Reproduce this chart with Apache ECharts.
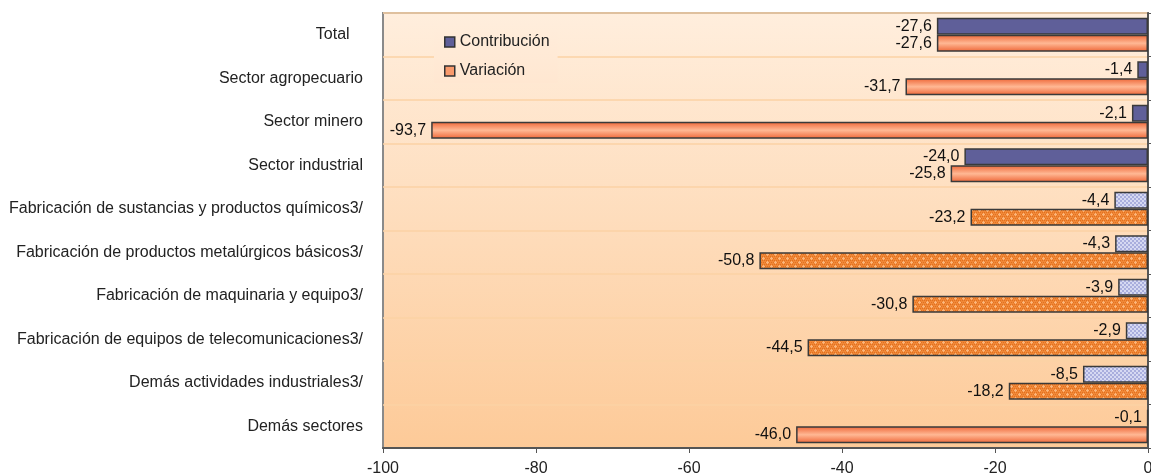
<!DOCTYPE html>
<html>
<head>
<meta charset="utf-8">
<script src="https://cdn.jsdelivr.net/npm/echarts@6/dist/echarts.min.js"></script>
<style>
  html, body { margin: 0; padding: 0; background: #ffffff; }
  #chart { width: 1151px; height: 474px; }
</style>
</head>
<body>
<div id="chart"></div>
<script>
// Sectores y variación de las exportaciones (en %)
const categories = [
  'Total   ',
  'Sector agropecuario',
  'Sector minero',
  'Sector industrial',
  'Fabricación de sustancias y productos químicos3/',
  'Fabricación de productos metalúrgicos básicos3/',
  'Fabricación de maquinaria y equipo3/',
  'Fabricación de equipos de telecomunicaciones3/',
  'Demás actividades industriales3/',
  'Demás sectores'
];
const contribucion = [-27.6, -1.4, -2.1, -24.0, -4.4, -4.3, -3.9, -2.9, -8.5, -0.1];
const variacion    = [-27.6, -31.7, -93.7, -25.8, -23.2, -50.8, -30.8, -44.5, -18.2, -46.0];
// industrial sub-branches drawn with textured fills
const subramas = [false, false, false, false, true, true, true, true, true, false];
const xTicks = { min: -100, max: 0, interval: 20 };

function makePattern(w, h, bg, draw) {
  const c = document.createElement('canvas');
  c.width = w; c.height = h;
  const g = c.getContext('2d');
  g.fillStyle = bg; g.fillRect(0, 0, w, h);
  draw(g);
  return { image: c, repeat: 'repeat' };
}

// lavender checkerboard texture
const patContrib = makePattern(4, 4, '#d6d9f2', g => {
  g.fillStyle = '#a9aedd';
  g.fillRect(0, 0, 2, 2); g.fillRect(2, 2, 2, 2);
});
// orange checkered texture with small light crosses
const patVar = makePattern(8, 8, '#f08838', g => {
  g.fillStyle = '#e2701f';
  for (let y = 0; y < 8; y += 2) {
    for (let x = (y % 4 === 0 ? 0 : 1); x < 8; x += 2) g.fillRect(x, y, 1, 1);
  }
  g.fillStyle = '#fbb57a';
  g.fillRect(3, 1, 1, 3); g.fillRect(2, 2, 3, 1);
  g.fillRect(7, 5, 1, 3); g.fillRect(6, 6, 2, 1); g.fillRect(0, 6, 1, 1);
});

const gradVar = new echarts.graphic.LinearGradient(0, 0, 0, 1, [
  { offset: 0, color: '#ee6536' },
  { offset: 0.5, color: '#ffb894' },
  { offset: 1, color: '#ee6536' }
]);

const fmt = p => p.value.toFixed(1).replace('.', ',');
const border = { borderColor: '#3a3a3a', borderWidth: 1.5 };
const FONT = 'Liberation Sans, Arial, sans-serif';

const chart = echarts.init(document.getElementById('chart'), null, { renderer: 'canvas' });
chart.setOption({
  animation: false,
  backgroundColor: '#ffffff',
  textStyle: { fontFamily: FONT },
  grid: {
    left: 383, right: 3, top: 13, bottom: 26,
    containLabel: false,
    outerBoundsMode: 'none',
    show: true,
    borderColor: '#8a8a8a', borderWidth: 2,
    backgroundColor: new echarts.graphic.LinearGradient(0, 0, 0, 1, [
      { offset: 0, color: '#ffeedd' },
      { offset: 1, color: '#fdca98' }
    ])
  },
  legend: {
    orient: 'vertical',
    left: 434, top: 30,
    padding: [4, 8, 4, 10],
    itemGap: 13,
    itemWidth: 10, itemHeight: 10,
    backgroundColor: new echarts.graphic.LinearGradient(0, 0, 0, 1, [
      { offset: 0, color: '#ffecda' },
      { offset: 1, color: '#ffe7d1' }
    ]),
    textStyle: { fontSize: 16, color: '#222', fontFamily: FONT },
    data: [
      { name: 'Contribución', icon: 'rect', itemStyle: { color: '#5f5f99', borderColor: '#333', borderWidth: 1.5 } },
      { name: 'Variación', icon: 'rect', itemStyle: { color: '#f99a6c', borderColor: '#333', borderWidth: 1.5 } }
    ]
  },
  xAxis: {
    type: 'value',
    min: xTicks.min, max: xTicks.max, interval: xTicks.interval,
    axisLine: { show: true, onZero: false, lineStyle: { color: '#555', width: 2 } },
    axisTick: { show: true, length: 5, lineStyle: { color: '#555' } },
    axisLabel: { fontSize: 16, color: '#222', margin: 13, fontFamily: FONT },
    splitLine: { show: false }
  },
  yAxis: [
    {
      type: 'category', data: categories, inverse: true, position: 'left',
      axisLine: { show: false }, axisTick: { show: false },
      axisLabel: { fontSize: 16, color: '#222', margin: 20, fontFamily: FONT },
      splitLine: { show: true, interval: 0, lineStyle: { color: '#fbd2a4', width: 1.5 } }
    },
    {
      type: 'category', data: categories, inverse: true, position: 'right',
      axisLine: { show: true, onZero: false, lineStyle: { color: '#555', width: 2 } },
      axisTick: { show: true, inside: false, length: 4, lineStyle: { color: '#555' } },
      axisLabel: { show: false }
    }
  ],
  series: [
    {
      name: 'Contribución', type: 'bar', yAxisIndex: 0,
      barCategoryGap: '22%', barGap: '0%',
      itemStyle: Object.assign({ color: '#5f5f99' }, border),
      label: { show: true, position: 'left', distance: 5, formatter: fmt, fontSize: 16, color: '#111', fontFamily: FONT },
      data: contribucion.map((v, i) => subramas[i]
        ? { value: v, itemStyle: { color: patContrib } }
        : { value: v })
    },
    {
      name: 'Variación', type: 'bar', yAxisIndex: 0,
      barCategoryGap: '22%', barGap: '0%',
      itemStyle: Object.assign({ color: gradVar }, border),
      label: { show: true, position: 'left', distance: 5, formatter: fmt, fontSize: 16, color: '#111', fontFamily: FONT },
      data: variacion.map((v, i) => subramas[i]
        ? { value: v, itemStyle: { color: patVar } }
        : { value: v })
    }
  ]
});
</script>
</body>
</html>
